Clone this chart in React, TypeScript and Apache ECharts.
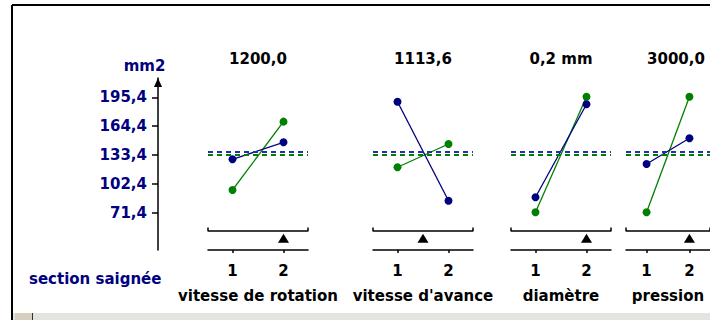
import React, { useEffect, useRef } from "react";
import * as echarts from "echarts";

// ---- data ----
const factorNames = ["vitesse de rotation", "vitesse d'avance", "diamètre", "pression"];
const factorTitles = ["1200,0", "1113,6", "0,2 mm", "3000,0"];
const levels = [1, 2];
const levelLabels = ["1", "2"];
const blueRotation = [129.0, 147.2];
const blueAvance = [190.6, 84.7];
const blueDiametre = [88.4, 187.9];
const bluePression = [124.0, 151.5];
const greenRotation = [96.2, 169.3];
const greenAvance = [120.5, 145.4];
const greenDiametre = [72.3, 196.0];
const greenPression = [72.3, 196.0];
const blueMean = 136.6;
const greenMean = 133.4;
const optimumLevel = [2, 1.5, 2, 2];
const yTicks = [71.4, 102.4, 133.4, 164.4, 195.4];
const yUnit = "mm2";
const responseName = "section saignée";

const blueSeries = [blueRotation, blueAvance, blueDiametre, bluePression];
const greenSeries = [greenRotation, greenAvance, greenDiametre, greenPression];

// ---- layout ----
const FONT = "DejaVu Sans";
const FS = 15;
const NAVY = "#000080";
const GREEN = "#008000";
const panelLefts = [208, 373, 511, 626];
const PANEL_W = 100;
const TOP = 78;
const HEIGHT = 172;
const Y_MIN = 32;
const Y_MAX = 216;
const X_MIN = 0.52;
const X_MAX = 2.48;
const BRACKET_Y = 52.3;
const BRACKET_END = 56.1;
const POINTER_Y = 44.6;

export default function App() {
  const ref = useRef<HTMLDivElement>(null);
  useEffect(() => {
    if (!ref.current) return;
    const chart = echarts.init(ref.current, null, { renderer: "svg" });

    const grids: any[] = panelLefts.map((l) => ({ left: l, top: TOP, width: PANEL_W, height: HEIGHT }));
    grids.push({ left: 158, top: TOP, width: 1, height: HEIGHT });

    const xAxes: any[] = panelLefts.map((_, i) => ({
      type: "value",
      gridIndex: i,
      min: X_MIN,
      max: X_MAX,
      axisLine: { show: true, lineStyle: { color: "#000", width: 1.5 } },
      axisTick: { show: true, customValues: levels, length: 3, lineStyle: { color: "#000", width: 1.5 } },
      axisLabel: {
        show: true,
        customValues: levels,
        formatter: (v: number) => levelLabels[levels.indexOf(v)] ?? "",
        margin: 13,
        color: "#000",
        fontFamily: FONT,
        fontSize: FS,
        fontWeight: "bold",
      },
      splitLine: { show: false },
      name: factorNames[i],
      nameLocation: "middle",
      nameGap: 38,
      nameTextStyle: { color: "#000", fontFamily: FONT, fontSize: FS, fontWeight: "bold" },
    }));
    xAxes.push({ type: "value", gridIndex: 4, show: false, min: 0, max: 1 });

    const yAxes: any[] = panelLefts.map((_, i) => ({
      type: "value",
      gridIndex: i,
      min: Y_MIN,
      max: Y_MAX,
      show: false,
    }));
    yAxes.push({
      type: "value",
      gridIndex: 4,
      min: Y_MIN,
      max: Y_MAX,
      position: "left",
      axisLine: {
        show: true,
        lineStyle: { color: "#000", width: 1.5 },
        symbol: ["none", "triangle"],
        symbolSize: [8, 9],
        symbolOffset: [0, -4.5],
      },
      axisTick: { show: true, customValues: yTicks, length: 6, lineStyle: { color: "#000", width: 1.5 } },
      axisLabel: {
        show: true,
        customValues: yTicks,
        formatter: (v: number) => v.toFixed(1).replace(".", ","),
        margin: 11,
        color: NAVY,
        fontFamily: FONT,
        fontSize: FS,
        fontWeight: "bold",
      },
      splitLine: { show: false },
      name: yUnit,
      nameLocation: "end",
      nameGap: 5,
      nameTextStyle: {
        color: NAVY,
        fontFamily: FONT,
        fontSize: FS,
        fontWeight: "bold",
        align: "center",
        padding: [0, 27, 0, 0],
      },
    });

    const series: any[] = [];
    panelLefts.forEach((_, i) => {
      series.push({
        type: "line",
        xAxisIndex: i,
        yAxisIndex: i,
        data: levels.map((l, j) => [l, greenSeries[i][j]]),
        color: GREEN,
        symbol: "circle",
        symbolSize: 8,
        lineStyle: { width: 1.3, color: GREEN },
        itemStyle: { color: GREEN },
        markLine: {
          silent: true,
          symbol: "none",
          label: { show: false },
          lineStyle: { type: [5, 4], width: 2, color: GREEN },
          data: [{ yAxis: greenMean }],
        },
        z: 3,
      });
      series.push({
        type: "line",
        xAxisIndex: i,
        yAxisIndex: i,
        data: levels.map((l, j) => [l, blueSeries[i][j]]),
        color: NAVY,
        symbol: "circle",
        symbolSize: 8,
        lineStyle: { width: 1.3, color: NAVY },
        itemStyle: { color: NAVY },
        markLine: {
          silent: true,
          symbol: "none",
          label: { show: false },
          lineStyle: { type: [5, 4], width: 2, color: "#2030b0" },
          data: [{ yAxis: blueMean }],
        },
        z: 4,
      });
      // balance bracket
      series.push({
        type: "line",
        xAxisIndex: i,
        yAxisIndex: i,
        data: [
          [X_MIN, BRACKET_END],
          [X_MIN, BRACKET_Y],
          [X_MAX, BRACKET_Y],
          [X_MAX, BRACKET_END],
        ],
        symbol: "none",
        silent: true,
        lineStyle: { color: "#000", width: 1.5 },
        clip: false,
      });
      // optimum pointer
      series.push({
        type: "scatter",
        xAxisIndex: i,
        yAxisIndex: i,
        data: [[optimumLevel[i], POINTER_Y]],
        symbol: "triangle",
        symbolSize: [11, 9],
        itemStyle: { color: "#000", opacity: 1 },
        silent: true,
      });
    });

    const titles: any[] = factorTitles.map((t, i) => ({
      text: t,
      left: panelLefts[i] + PANEL_W / 2,
      top: 51,
      textAlign: "center",
      padding: 0,
      textStyle: { color: "#000", fontFamily: FONT, fontSize: FS, fontWeight: "bold" },
    }));
    titles.push({
      text: responseName,
      left: 29,
      top: 271.5,
      padding: 0,
      textStyle: { color: NAVY, fontFamily: FONT, fontSize: FS, fontWeight: "bold" },
    });

    chart.setOption({
      animation: false,
      backgroundColor: "#fff",
      title: titles,
      grid: grids,
      xAxis: xAxes,
      yAxis: yAxes,
      series,
      graphic: [
        { type: "rect", shape: { x: 13, y: 313, width: 697, height: 7 }, style: { fill: "#e1e5de" }, z: 100 },
        { type: "rect", shape: { x: 15, y: 313, width: 17, height: 7 }, style: { fill: "#d6cfbf" }, z: 101 },
        { type: "line", shape: { x1: 32.5, y1: 313, x2: 32.5, y2: 320 }, style: { stroke: "#333", lineWidth: 1 }, z: 101 },
        { type: "line", shape: { x1: 12, y1: 5, x2: 710, y2: 5 }, style: { stroke: "#000", lineWidth: 2 }, z: 102 },
        { type: "line", shape: { x1: 12, y1: 5, x2: 12, y2: 320 }, style: { stroke: "#000", lineWidth: 2 }, z: 102 },
      ],
    });
    return () => chart.dispose();
  }, []);
  return (
    <div
      ref={ref}
      style={{ position: "fixed", left: 0, top: 0, width: 710, height: 320, background: "#fff" }}
    />
  );
}
